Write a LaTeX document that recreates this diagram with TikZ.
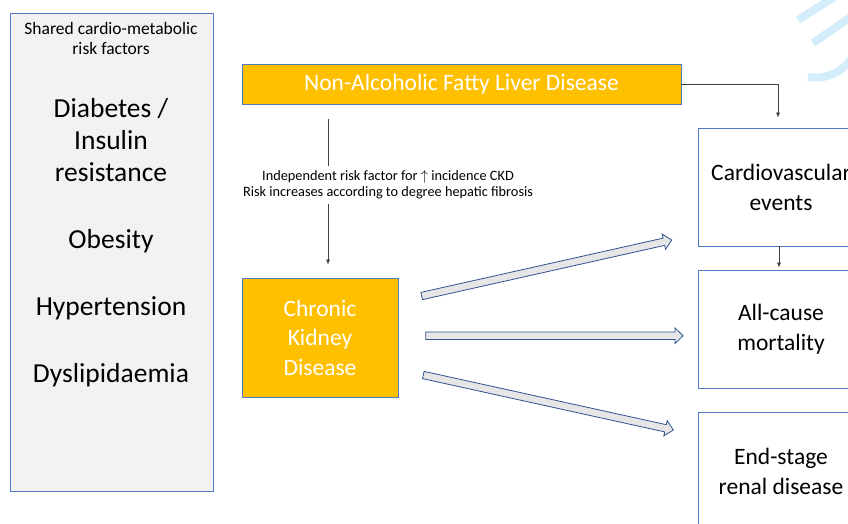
\documentclass[tikz,border=0pt]{standalone}
\usepackage{fontspec}
\setmainfont{Carlito}
\usetikzlibrary{arrows.meta,positioning,calc}

\definecolor{gold}{RGB}{255,192,0}
\definecolor{boxblue}{RGB}{80,120,195}
\definecolor{panelgray}{RGB}{242,242,242}
\definecolor{arrowfill}{RGB}{231,230,230}
\definecolor{arrowline}{RGB}{47,82,143}
\definecolor{wmblue}{RGB}{212,237,250}

% broad arrow from #1 to #2
\newcommand{\blockarrow}[2]{%
	\coordinate (#1-neck) at ($(#2)!8pt!(#1)$);
	\draw[blockar] ($(#1)!3.7pt!90:(#2)$) -- ($(#1-neck)!3.7pt!90:(#2)$) -- ($(#1-neck)!7.8pt!90:(#2)$)
		-- (#2) -- ($(#1-neck)!7.8pt!-90:(#2)$) -- ($(#1-neck)!3.7pt!-90:(#2)$) -- ($(#1)!3.7pt!-90:(#2)$) -- cycle;
}

\begin{document}
\begin{tikzpicture}[
		x=1pt, y=-1pt,
		link/.style={draw=black!75, line width=0.6pt, -{Latex[length=5pt,width=4pt]}},
		panel/.style={draw=boxblue, line width=0.8pt, fill=panelgray, minimum width=203pt, minimum height=478pt},
		goldbox/.style={draw=boxblue, line width=0.8pt, fill=gold, text=white, align=center, font=\fontsize{23.5}{29.5}\selectfont},
		outcome/.style={draw=boxblue, line width=0.8pt, fill=white, align=center, minimum width=166pt, minimum height=118pt, font=\fontsize{23.5}{30}\selectfont},
		riskword/.style={align=center, font=\fontsize{27.5}{32}\selectfont},
		blockar/.style={draw=arrowline, line width=0.8pt, fill=arrowfill, line join=miter},
		wmark/.style={draw=wmblue, line width=8pt},
	]
		\useasboundingbox (0,0) rectangle (848,523);
		\clip (0,0) rectangle (848,523);

		% watermark fragment
		\draw[wmark] (798,20) -- (836,-4);
		\draw[wmark] (813,43) -- (852,16);
		\draw[wmark] (808,77) .. controls (826,80) and (842,72) .. (852,58);

		% shared risk factors
		\node[panel] (risk) at (111.5,252) {};
		\node[align=center, font=\fontsize{17.5}{20}\selectfont] (shared) at (111,38) {Shared cardio-metabolic\\risk factors};
		\node[riskword] (diab) at (111,140) {Diabetes /\\Insulin\\resistance};
		\node[riskword] (obes) at (111,241) {Obesity};
		\node[riskword] (hyper) at (111,308) {Hypertension};
		\node[riskword] (dysl) at (111,375) {Dyslipidaemia};

		% liver and kidney
		\node[goldbox, minimum width=439pt, minimum height=40pt] (nafld) at (461.5,84) {Non-Alcoholic Fatty Liver Disease};
		\node[goldbox, minimum width=156pt, minimum height=119pt] (ckd) at (320,337.5) {Chronic\\Kidney\\Disease};

		% outcomes
		\node[outcome] (cv) at (781,187) {Cardiovascular\\events};
		\node[outcome] (mort) at (781,329) {All-cause\\mortality};
		\node[outcome] (esrd) at (781,471) {End-stage\\renal disease};

		\coordinate (ckdtop) at ([xshift=8pt]ckd.north);
		\draw[link, shorten <=15pt, shorten >=13pt] (nafld.south -| ckdtop) -- (ckdtop);
		\node[fill=white, inner xsep=2pt, inner ysep=5pt, align=center, font=\fontsize{14.3}{16}\selectfont] (why) at (388,185)
			{Independent risk factor for $\uparrow$ incidence CKD\\Risk increases according to degree hepatic fibrosis};

		\draw[link, shorten >=10pt] (nafld.east) -| ([xshift=-3pt]cv.north);
		\draw[link, shorten >=2pt] ([xshift=-2pt]cv.south) -- ([xshift=-2pt]mort.north);

		% broad arrows out of CKD
		\coordinate (t1) at (421.7,296);
		\coordinate (h1) at (671.7,240);
		\coordinate (t2) at (425.7,335.7);
		\coordinate (h2) at (683,335.7);
		\coordinate (t3) at (423.3,375);
		\coordinate (h3) at (673.3,430);
		\blockarrow{t1}{h1}
		\blockarrow{t2}{h2}
		\blockarrow{t3}{h3}
	\end{tikzpicture}
\end{document}
